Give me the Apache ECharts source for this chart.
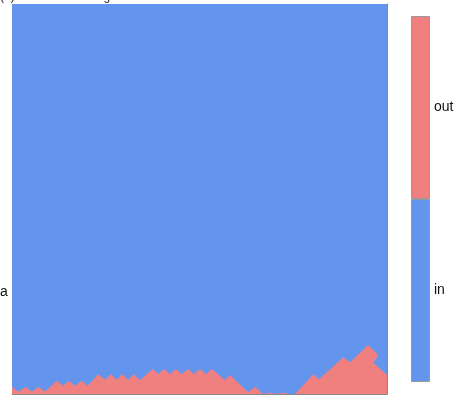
<!DOCTYPE html>
<html>
<head>
<meta charset="utf-8">
<script src="https://cdn.jsdelivr.net/npm/echarts@6/dist/echarts.min.js"></script>
<style>
  html, body { margin: 0; padding: 0; background: #fff; }
  #chart { width: 459px; height: 395px; }
</style>
</head>
<body>
<div id="chart"></div>
<script>
// boundary of the "out" region (x, y)
const boundaryX = [0, 6.3, 13.7, 19.7, 26.3, 33, 44.7, 51.3, 57, 63, 69.7, 75.7,
  86.3, 93, 99, 104.7, 110.3, 116.3, 121.3, 128, 140.7, 146.3, 152, 158, 164,
  169.7, 176.3, 182, 188, 194, 199.7, 213, 218, 236.3, 243, 251, 259.7, 263,
  273, 276, 283, 301.3, 307, 331.3, 338, 356, 366.3, 361.3, 375]
const boundaryY = [7, 2.3, 7.3, 2.3, 7.3, 2.5, 13.3, 8.3, 13.3, 8.3, 13.3, 8.3,
  19.7, 14.3, 19.7, 14.3, 19.7, 14.3, 19.7, 14, 25, 20, 25, 20, 25,
  20, 25, 20, 25, 20, 25, 14, 19, 1.7, 7.3, 0, 1.3, 0,
  1.3, 0, 0, 19.7, 14.7, 36.7, 31.7, 49, 39, 31.3, 19]
const classes = ['in', 'out']
const classColors = ['#6495ED', '#F08080']

const boundary = boundaryX.map((x, i) => [x, boundaryY[i]])

const chart = echarts.init(document.getElementById('chart'))

chart.setOption({
  animation: false,
  textStyle: { fontFamily: 'Liberation Sans, Arial, sans-serif' },
  title: {
    text: '(b) Decision learning',
    left: 0, top: -9, padding: 0,
    textStyle: { fontSize: 12, fontWeight: 'normal', color: '#222' }
  },
  graphic: [{
    type: 'text', left: 0, top: 285,
    style: { text: 'a', fontSize: 14, fill: '#111', fontFamily: 'Liberation Sans, Arial, sans-serif' }
  }],
  grid: [
    { left: 12, top: 4, width: 375, height: 390, show: true,
      backgroundColor: classColors[0], borderWidth: 0 },
    { left: 411, top: 16, width: 19, height: 366 }
  ],
  xAxis: [
    { gridIndex: 0, type: 'value', min: 0, max: 375,
      axisLine: { show: true, onZero: false, lineStyle: { color: '#888', width: 1 } },
      axisTick: { show: false }, axisLabel: { show: false }, splitLine: { show: false } },
    { gridIndex: 1, type: 'value', min: 0, max: 1, show: false }
  ],
  yAxis: [
    { gridIndex: 0, type: 'value', min: 0, max: 390, position: 'right',
      axisLine: { show: true, onZero: false, lineStyle: { color: '#888', width: 1 } },
      axisTick: { show: false }, axisLabel: { show: false }, splitLine: { show: false } },
    { gridIndex: 1, type: 'category', data: classes, position: 'right',
      axisLine: { show: false },
      axisTick: { show: true, alignWithLabel: true, length: 3, lineStyle: { color: '#555' } },
      axisLabel: { margin: 4, fontSize: 14, color: '#111' } }
  ],
  series: [
    {
      type: 'line', xAxisIndex: 0, yAxisIndex: 0,
      data: boundary, symbol: 'none', smooth: false,
      lineStyle: { width: 0 },
      areaStyle: { color: classColors[1], opacity: 1, origin: 'start' },
      z: 1
    },
    {
      type: 'bar', xAxisIndex: 1, yAxisIndex: 1,
      barWidth: '100%', barCategoryGap: 0,
      data: classes.map((c, i) => ({
        value: 1,
        itemStyle: { color: classColors[i], borderColor: '#999', borderWidth: 1 }
      }))
    }
  ]
})
</script>
</body>
</html>
